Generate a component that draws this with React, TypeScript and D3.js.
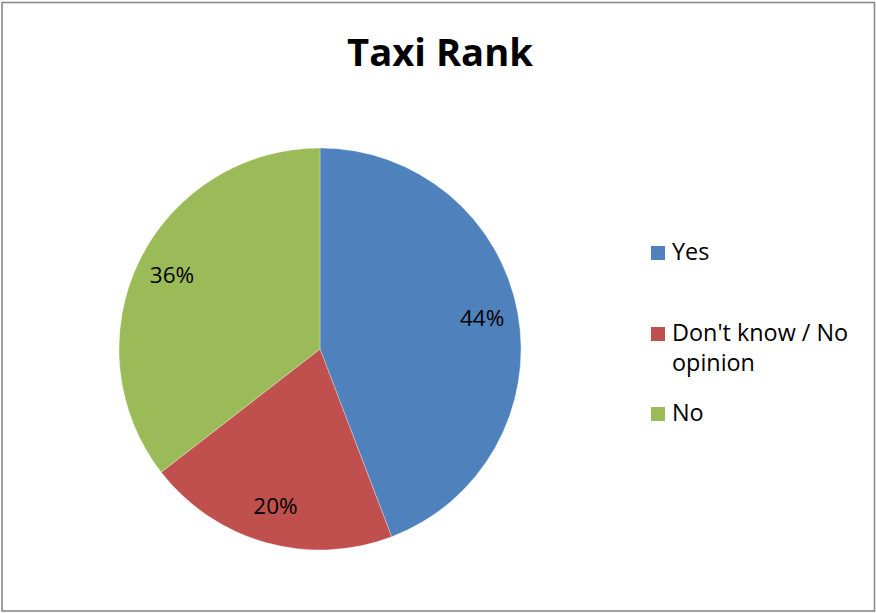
import React, { useEffect, useRef } from "react";
import * as d3 from "d3";

const categories = ["Yes", "Don't know / No opinion", "No"];
const values = [44.2, 20.3, 35.5];
const colors = ["#4F81BD", "#C0504D", "#9BBB59"];
const legendLines = [["Yes"], ["Don't know / No", "opinion"], ["No"]];
const title = "Taxi Rank";

const W = 876;
const H = 613;
const FONT = "'Open Sans', 'Noto Sans', sans-serif";

export default function App() {
  const ref = useRef<SVGSVGElement | null>(null);

  useEffect(() => {
    const svg = d3.select(ref.current);
    svg.selectAll<SVGTextElement, unknown>("text[data-w]").each(function () {
      const el = this as SVGTextElement;
      const target = +(el.getAttribute("data-w") || 0);
      const fs = parseFloat(el.getAttribute("font-size") || "20");
      const len = el.getComputedTextLength();
      if (len > 0 && target > 0) {
        el.setAttribute("font-size", String((fs * target) / len));
      }
    });
  }, []);

  const cx = 320;
  const cy = 349;
  const R = 201;

  const pie = d3
    .pie<number>()
    .sort(null)
    .value((d) => d);
  const arcs = pie(values);
  const arc = d3.arc<d3.PieArcDatum<number>>().innerRadius(0).outerRadius(R);
  const labelArc = d3
    .arc<d3.PieArcDatum<number>>()
    .innerRadius(R * 0.82)
    .outerRadius(R * 0.82);

  const legendX = 651;
  const legendTop = [246, 327, 407];
  const lineGap = 30;

  return (
    <svg
      ref={ref}
      width={W}
      height={H}
      style={{ position: "absolute", left: 0, top: 0, background: "#fff" }}
      fontFamily={FONT}
    >
      <rect x={0} y={0} width={W} height={H} fill="#fff" />
      <rect
        x={2}
        y={2.5}
        width={872.5}
        height={608.5}
        fill="none"
        stroke="#8a8a8a"
        strokeWidth={1.6}
      />
      <text
        x={440}
        y={66}
        textAnchor="middle"
        fontWeight="bold"
        fontSize={40}
        data-w={186}
        fill="#000"
      >
        {title}
      </text>
      <g transform={`translate(${cx},${cy})`}>
        {arcs.map((a, i) => (
          <path
            key={categories[i]}
            d={arc(a) || ""}
            fill={colors[i]}
            stroke="#ffffff"
            strokeOpacity={0.5}
            strokeWidth={0.6}
          />
        ))}
        {arcs.map((a, i) => {
          const [lx, ly] = labelArc.centroid(a);
          return (
            <text
              key={"l" + i}
              x={lx}
              y={ly}
              dy="0.3em"
              textAnchor="middle"
              fontSize={22.5}
              fill="#000"
            >
              {d3.format(".0%")(a.data / 100)}
            </text>
          );
        })}
      </g>
      {categories.map((c, i) => (
        <g key={"lg" + i}>
          <rect
            x={legendX}
            y={legendTop[i]}
            width={14}
            height={14}
            fill={colors[i]}
          />
          {legendLines[i].map((ln, j) => (
            <text
              key={ln}
              x={672}
              y={legendTop[i] + 14 + j * lineGap}
              fontSize={23.4}
              fill="#000"
            >
              {ln}
            </text>
          ))}
        </g>
      ))}
    </svg>
  );
}
